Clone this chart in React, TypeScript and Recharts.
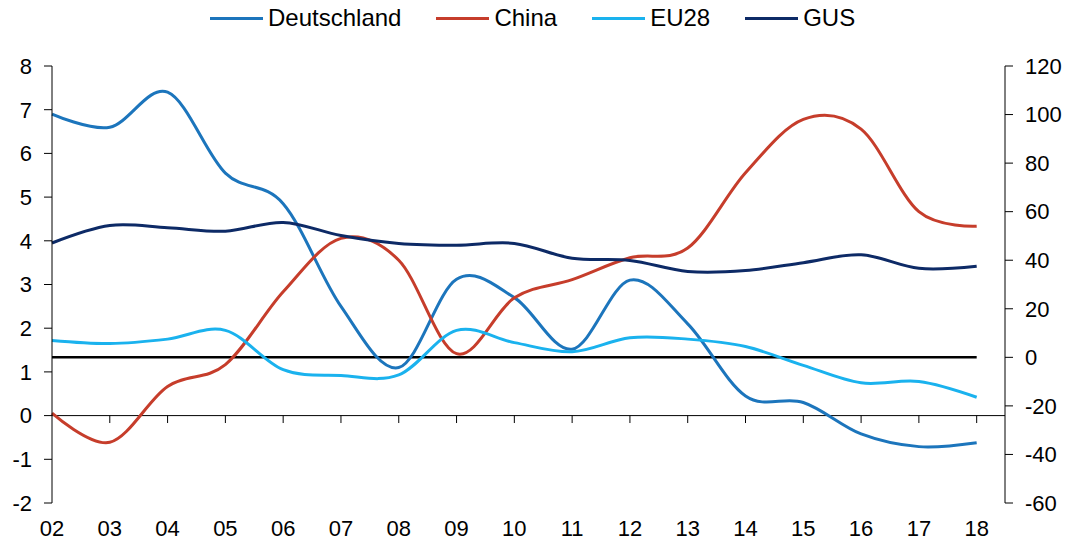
import { LineChart, Line, XAxis, YAxis, Legend, ReferenceLine } from 'recharts';

const years = [2, 3, 4, 5, 6, 7, 8, 9, 10, 11, 12, 13, 14, 15, 16, 17, 18];
const deutschland = [6.9, 6.6, 7.4, 5.55, 4.85, 2.5, 1.1, 3.12, 2.7, 1.52, 3.1, 2.1, 0.45, 0.3, -0.42, -0.71, -0.62];
const china = [-23, -35, -12, -3, 27, 49, 40, 1.5, 24.5, 32, 41, 45, 76, 98, 94, 60, 54];
const eu28 = [1.72, 1.65, 1.75, 1.95, 1.05, 0.92, 0.93, 1.95, 1.67, 1.46, 1.78, 1.75, 1.58, 1.15, 0.75, 0.78, 0.42];
const gus = [3.95, 4.35, 4.3, 4.22, 4.42, 4.12, 3.94, 3.9, 3.94, 3.6, 3.55, 3.3, 3.32, 3.5, 3.68, 3.37, 3.42];

const leftTicks = [-2, -1, 0, 1, 2, 3, 4, 5, 6, 7, 8];
const rightTicks = [-60, -40, -20, 0, 20, 40, 60, 80, 100, 120];

const COLORS = {
    deutschland: '#1C75BC',
    china: '#C63D2B',
    eu28: '#1AB2EE',
    gus: '#0D2A66',
};

const data = years.map((y, i) => ({
    year: y,
    deutschland: deutschland[i],
    china: china[i],
    eu28: eu28[i],
    gus: gus[i],
}));

// Excel-style smoothed line (Catmull-Rom, tension 0)
function smoothCurve(context: any) {
    const k = 1 / 6;
    let x0 = NaN, x1 = NaN, x2 = NaN, y0 = NaN, y1 = NaN, y2 = NaN;
    let pt = 0;
    let line: number = NaN;
    const bez = (x: number, y: number) => {
        context.bezierCurveTo(
            x1 + k * (x2 - x0), y1 + k * (y2 - y0),
            x2 + k * (x1 - x), y2 + k * (y1 - y),
            x2, y2
        );
    };
    return {
        areaStart() { line = 0; },
        areaEnd() { line = NaN; },
        lineStart() { x0 = x1 = x2 = y0 = y1 = y2 = NaN; pt = 0; },
        lineEnd() {
            if (pt === 2) context.lineTo(x2, y2);
            else if (pt === 3) bez(x1, y1);
            if (line || (line !== 0 && pt === 1)) context.closePath();
            line = 1 - line;
        },
        point(x: number, y: number) {
            x = +x; y = +y;
            if (pt === 0) {
                pt = 1;
                line ? context.lineTo(x, y) : context.moveTo(x, y);
            } else if (pt === 1) {
                pt = 2;
                x1 = x; y1 = y;
            } else {
                pt = 3;
                bez(x, y);
            }
            x0 = x1; x1 = x2; x2 = x;
            y0 = y1; y1 = y2; y2 = y;
        },
    };
}

const legendItems = [
    { label: 'Deutschland', color: COLORS.deutschland },
    { label: 'China', color: COLORS.china },
    { label: 'EU28', color: COLORS.eu28 },
    { label: 'GUS', color: COLORS.gus },
];

function ChartLegend() {
    return (
        <div style={{ height: 66, paddingLeft: 210, paddingTop: 4, boxSizing: 'border-box', display: 'flex', alignItems: 'flex-start', fontFamily: 'Liberation Sans, Arial, sans-serif', fontSize: 24, lineHeight: '28px', color: '#000' }}>
            {legendItems.map((item) => (
                <div key={item.label} style={{ display: 'flex', alignItems: 'center', height: 28, marginRight: 35 }}>
                    <span style={{ display: 'inline-block', width: 53, height: 3, background: item.color, marginRight: 5 }} />
                    <span>{item.label}</span>
                </div>
            ))}
        </div>
    );
}

const tickStyle = { fill: '#000', fontSize: 22, fontFamily: 'Liberation Sans, Arial, sans-serif' };

export default function App() {
    return (
        <div style={{ position: 'absolute', left: 0, top: 0, background: '#fff' }}>
            <LineChart width={1070} height={542} data={data} margin={{ top: 0, right: 0, bottom: 0, left: 0 }}>
                <Legend verticalAlign="top" content={<ChartLegend />} wrapperStyle={{ left: 0, top: 0, width: 1070 }} />
                <XAxis
                    dataKey="year"
                    type="number"
                    domain={[2, 18.49]}
                    ticks={years}
                    interval={0}
                    tickFormatter={(v: number) => String(v).padStart(2, '0')}
                    axisLine={false}
                    tickLine={false}
                    tickSize={8}
                    tickMargin={9}
                    height={39}
                    tick={tickStyle}
                />
                <YAxis
                    yAxisId="left"
                    domain={[-2, 8]}
                    ticks={leftTicks}
                    interval={0}
                    width={52}
                    axisLine={{ stroke: '#000' }}
                    tickLine={{ stroke: '#000' }}
                    tickSize={8}
                    tickMargin={12}
                    tick={tickStyle}
                />
                <YAxis
                    yAxisId="right"
                    orientation="right"
                    domain={[-60, 120]}
                    ticks={rightTicks}
                    interval={0}
                    width={65}
                    axisLine={{ stroke: '#000' }}
                    tickLine={{ stroke: '#000' }}
                    tickSize={8}
                    tickMargin={12}
                    tick={{ ...tickStyle, textAnchor: 'start' }}
                />
                <ReferenceLine yAxisId="left" y={0} stroke="#000" strokeWidth={1} />
                {years.slice(1).map((y) => (
                    <ReferenceLine
                        key={y}
                        yAxisId="left"
                        segment={[{ x: y, y: 0 }, { x: y, y: -0.17 }]}
                        stroke="#000"
                        strokeWidth={1}
                    />
                ))}
                <ReferenceLine
                    yAxisId="right"
                    segment={[{ x: years[0], y: 0 }, { x: years[years.length - 1], y: 0 }]}
                    stroke="#000"
                    strokeWidth={2.5}
                />
                <Line yAxisId="left" dataKey="deutschland" type={smoothCurve as any} stroke={COLORS.deutschland} strokeWidth={3} dot={false} isAnimationActive={false} />
                <Line yAxisId="right" dataKey="china" type={smoothCurve as any} stroke={COLORS.china} strokeWidth={3} dot={false} isAnimationActive={false} />
                <Line yAxisId="left" dataKey="eu28" type={smoothCurve as any} stroke={COLORS.eu28} strokeWidth={3} dot={false} isAnimationActive={false} />
                <Line yAxisId="left" dataKey="gus" type={smoothCurve as any} stroke={COLORS.gus} strokeWidth={3} dot={false} isAnimationActive={false} />
            </LineChart>
        </div>
    );
}
